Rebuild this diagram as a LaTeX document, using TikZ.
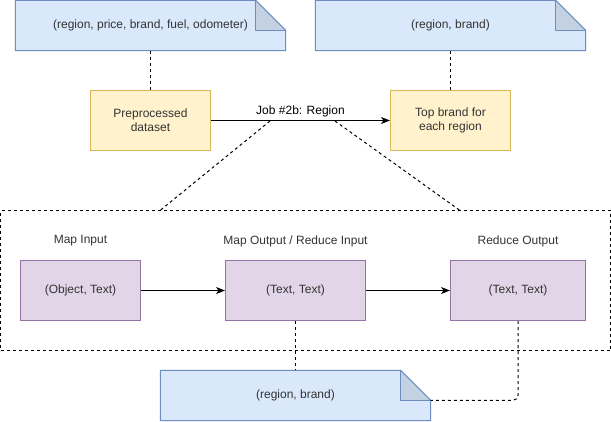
\documentclass[tikz,border=0pt]{standalone}
\usepackage{fontspec}
\setmainfont{Liberation Sans}
\usetikzlibrary{arrows.meta,calc}
\definecolor{bluefill}{HTML}{DAE8FC}
\definecolor{bluedraw}{HTML}{6C8EBF}
\definecolor{bluefold}{HTML}{C3D1E3}
\definecolor{yelfill}{HTML}{FFF2CC}
\definecolor{yeldraw}{HTML}{D6B656}
\definecolor{purfill}{HTML}{E1D5E7}
\definecolor{purdraw}{HTML}{9673A6}
\definecolor{txt}{HTML}{333333}
\begin{document}
\begin{tikzpicture}[x=1pt,y=-1pt,
  every node/.style={font=\fontsize{12pt}{14pt}\selectfont, text=txt, inner sep=0pt, align=center},
  notebox/.style={minimum width=270pt, minimum height=50pt},
  yelbox/.style={draw=yeldraw, fill=yelfill, line width=1pt, minimum width=120pt, minimum height=60pt},
  purbox/.style={draw=purdraw, fill=purfill, line width=1pt, minimum height=60pt},
  conn/.style={line width=1pt, dash pattern=on 3pt off 3pt},
  arr/.style={line width=1pt, -{Stealth[length=9pt,width=7pt,inset=2.5pt]}},
  lbl/.style={}
]
\useasboundingbox (0,0) rectangle (611,421);

% notes (fill / outline drawn below the text nodes)
\newcommand{\drawnote}[1]{%
  \fill[bluefill] (#1.south west) -- (#1.north west) -- ([xshift=-30pt]#1.north east) -- ([yshift=-30pt]#1.north east) -- (#1.south east) -- cycle;
  \filldraw[bluefold, draw=bluedraw, line width=1pt, line join=round] ([xshift=-30pt]#1.north east) -- ([xshift=-30pt,yshift=-30pt]#1.north east) -- ([yshift=-30pt]#1.north east);
  \draw[bluedraw, line width=1pt, line join=miter] (#1.south west) -- (#1.north west) -- ([xshift=-30pt]#1.north east) -- ([yshift=-30pt]#1.north east) -- (#1.south east) -- cycle;
}

\path (150.5,25.5) node[notebox] (n1) {};
\path (450.5,25.5) node[notebox] (n2) {};
\path (295.5,395.5) node[notebox] (n3) {};
\drawnote{n1}\drawnote{n2}\drawnote{n3}
\node at (n1) {(region, price, brand, fuel, odometer)};
\node at (n2) {(region, brand)};
\node at (n3) {(region, brand)};

% yellow boxes
\node[yelbox] (pre) at (150.5,120.5) {Preprocessed\\dataset};
\node[yelbox] (top) at (450.5,120.5) {Top brand for\\each region};

% job frame
\node[draw=black, conn, minimum width=610pt, minimum height=140pt] (frame) at (305.5,280.5) {};

% purple boxes
\node[purbox, minimum width=120pt] (mi) at (80.5,290.5) {(Object, Text)};
\node[purbox, minimum width=140pt] (mo) at (295.5,290.5) {(Text, Text)};
\node[purbox, minimum width=135pt] (ro) at (518,290.5) {(Text, Text)};

% labels
\node (lmi) at (80.5,241) {Map Input};
\node (lmo) at (295.5,241) {Map Output / Reduce Input};
\node (lro) at (518,241) {Reduce Output};

% connectors
\draw[conn] (n1.south) -- (pre.north);
\draw[conn] (n2.south) -- (top.north);
\draw[arr] (pre.east) -- node[midway, yshift=9pt, text=black] (job) {Job \#2b: Region} (top.west);
\coordinate (jl) at (270,121);
\coordinate (jr) at (335,121);
\coordinate (fl) at (160,210.5);
\coordinate (fr) at (460,210.5);
\draw[conn] (jl) -- (fl);
\draw[conn] (jr) -- (fr);

\draw[arr] (mi.east) -- (mo.west);
\draw[arr] (mo.east) -- (ro.west);

\draw[conn] (mo.south) -- (n3.north);
\coordinate (n3f) at ([yshift=-30pt]n3.north east);
\draw[conn, rounded corners=5pt] (ro.south) |- (n3f);
\end{tikzpicture}
\end{document}
